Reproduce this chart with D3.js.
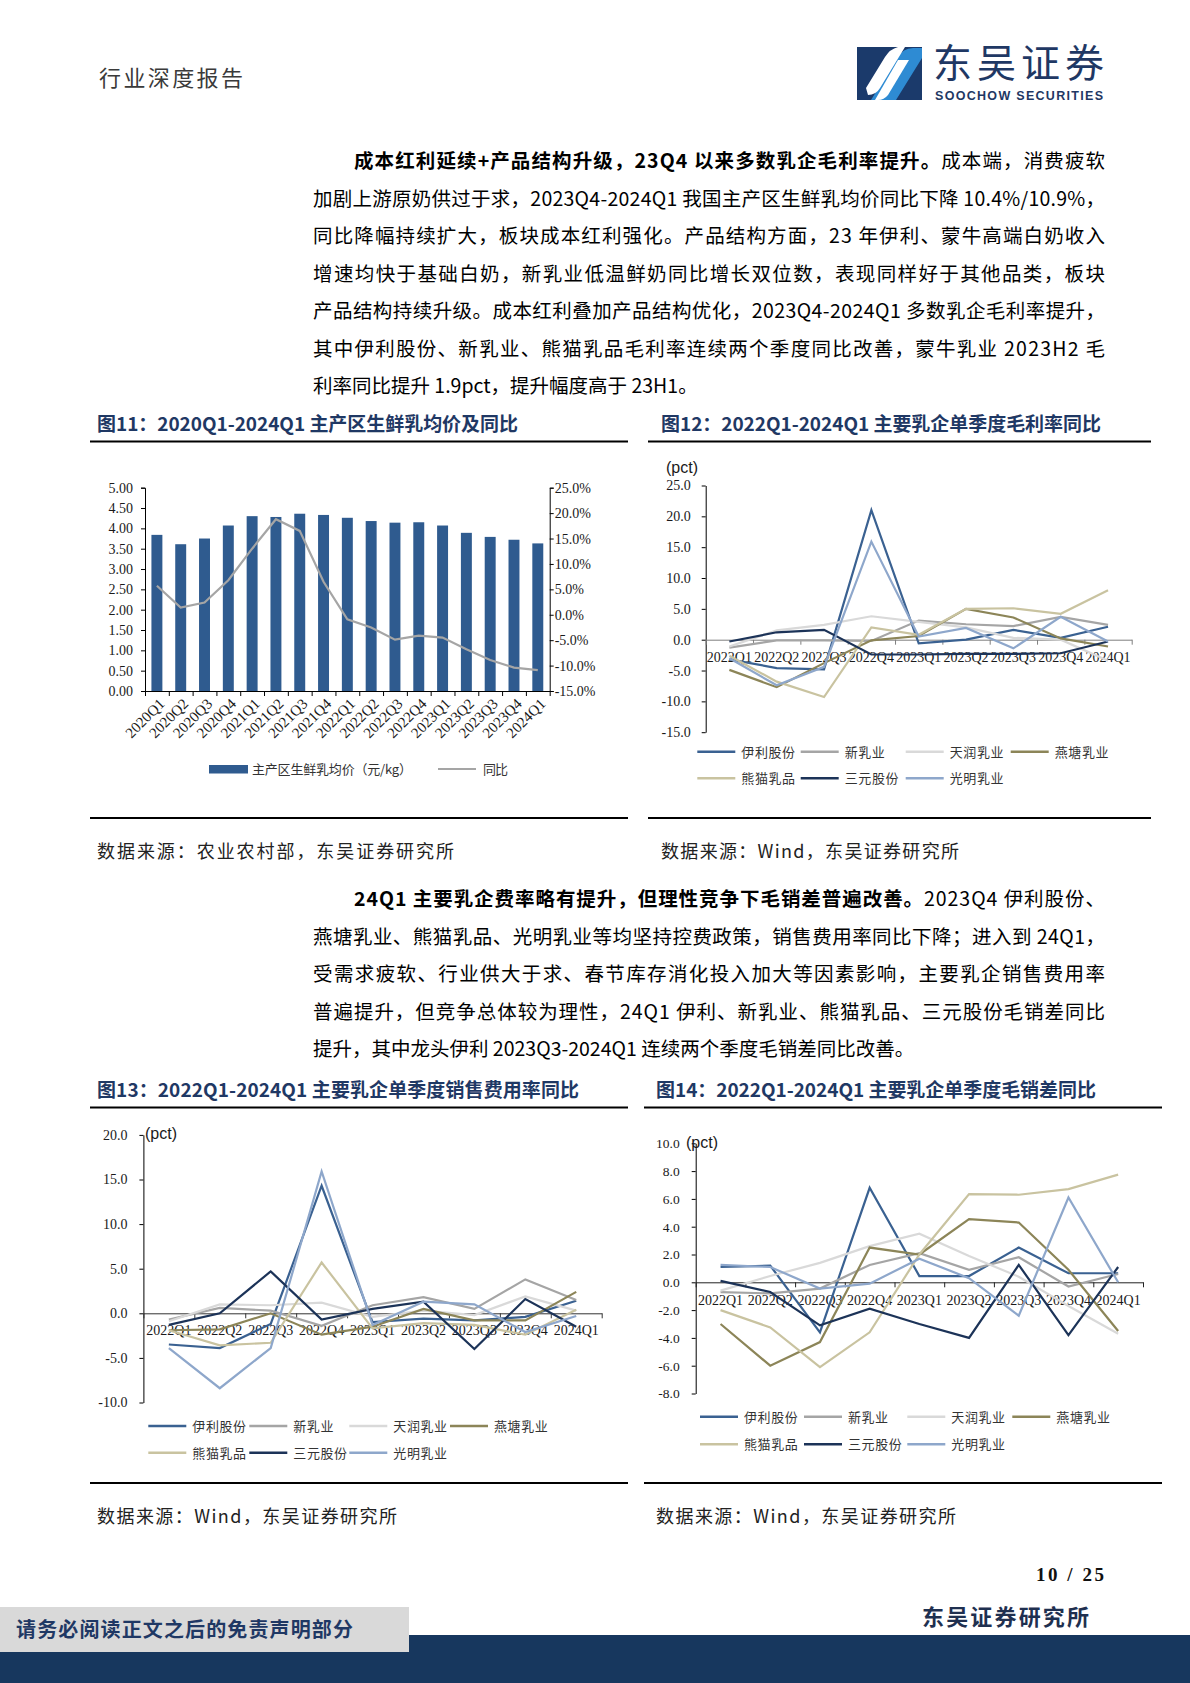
<!DOCTYPE html>
<html><head><meta charset="utf-8">
<script src="https://cdn.jsdelivr.net/npm/d3@7"></script>
<style>body{margin:0;background:#fff}svg{display:block}</style>
</head><body>
<svg id="page" width="1190" height="1683"></svg>
<script>
// ---------------- DATA ----------------
const quarters20 = ["2020Q1","2020Q2","2020Q3","2020Q4","2021Q1","2021Q2","2021Q3","2021Q4","2022Q1","2022Q2","2022Q3","2022Q4","2023Q1","2023Q2","2023Q3","2023Q4","2024Q1"];
const milkPrice = [3.84,3.61,3.75,4.07,4.30,4.28,4.36,4.33,4.26,4.18,4.14,4.15,4.07,3.89,3.79,3.72,3.63];
const milkPriceYoY = [5.7,1.4,2.4,6.8,13.0,18.8,16.5,6.5,-0.9,-2.5,-4.9,-4.1,-4.5,-6.8,-8.9,-10.4,-10.9];
const priceLeftTicks = [0,0.5,1,1.5,2,2.5,3,3.5,4,4.5,5];
const priceRightTicks = [-15,-10,-5,0,5,10,15,20,25];

const quarters22 = ["2022Q1","2022Q2","2022Q3","2022Q4","2023Q1","2023Q2","2023Q3","2023Q4","2024Q1"];
const companies = ["伊利股份","新乳业","天润乳业","燕塘乳业","熊猫乳品","三元股份","光明乳业"];
const companyColors = ["#3A6191","#A5A5A5","#D9D9D9","#8C8558","#C9C3A0","#1C3358","#8EA7CB"];

// 图12 毛利率同比 (pct)
const grossMarginYoY = [
  [-3.2,-4.6,-4.8,21.0,-0.6,0.0,1.6,0.3,2.1],
  [-1.3,-0.1,-0.1,-0.2,3.1,2.5,2.2,3.7,2.4],
  [-1.1,1.5,2.4,3.8,2.9,2.0,0.3,0.0,-3.4],
  [-4.9,-7.7,-3.8,-0.1,0.6,5.0,3.6,0.2,-1.1],
  [-2.6,-6.8,-9.3,2.0,0.8,5.0,5.1,4.2,8.0],
  [-0.3,1.2,1.6,-2.4,-2.4,-2.3,-2.3,-2.2,-0.3],
  [-3.0,-7.4,-4.4,15.9,0.5,1.9,-1.4,3.7,-0.3]
];
const grossMarginTicks = [-15,-10,-5,0,5,10,15,20,25];

// 图13 销售费用率同比 (pct)
const sellingExpenseYoY = [
  [-3.5,-3.9,-1.2,14.3,-1.0,-0.6,-0.8,-0.4,1.4],
  [-0.7,0.6,0.3,-1.4,0.9,1.8,0.5,3.8,1.5],
  [-0.9,1.0,0.9,1.2,-0.4,0.3,-0.2,1.9,0.3],
  [-1.9,-1.8,0.0,-2.4,-1.5,0.5,-0.8,-0.8,2.4],
  [-1.9,-3.6,-3.3,5.7,-1.7,-1.1,-1.3,-2.4,0.4],
  [-1.3,0.0,4.7,-0.7,0.5,1.3,-4.0,1.6,-1.5],
  [-3.9,-8.4,-3.9,15.9,-1.3,1.3,1.0,-2.1,-0.3]
];
const sellingExpenseTicks = [-10,-5,0,5,10,15,20];

// 图14 毛销差同比 (pct)
const grossSpreadYoY = [
  [1.1,1.2,-3.6,6.8,0.45,0.45,2.5,0.65,0.65],
  [-0.7,-0.8,-0.45,1.25,2.1,0.9,1.8,-0.3,0.6],
  [-0.6,0.45,1.4,2.6,3.5,1.9,0.4,-1.7,-3.7],
  [-3.0,-6.0,-4.3,2.5,2.0,4.55,4.3,0.9,-3.5],
  [-2.0,-3.25,-6.1,-3.6,2.0,6.35,6.3,6.7,7.75],
  [0.1,-0.7,-3.1,-1.9,-3.0,-4.0,1.25,-3.8,1.1],
  [1.25,1.1,-0.45,-0.1,1.7,0.3,-2.4,6.1,0.0]
];
const grossSpreadTicks = [-8,-6,-4,-2,0,2,4,6,8,10];

const para1 = [
  [["成本红利延续+产品结构升级，23Q4 以来多数乳企毛利率提升。",1],["成本端，消费疲软",0]],
  [["加剧上游原奶供过于求，2023Q4-2024Q1 我国主产区生鲜乳均价同比下降 10.4%/10.9%，",0]],
  [["同比降幅持续扩大，板块成本红利强化。产品结构方面，23 年伊利、蒙牛高端白奶收入",0]],
  [["增速均快于基础白奶，新乳业低温鲜奶同比增长双位数，表现同样好于其他品类，板块",0]],
  [["产品结构持续升级。成本红利叠加产品结构优化，2023Q4-2024Q1 多数乳企毛利率提升，",0]],
  [["其中伊利股份、新乳业、熊猫乳品毛利率连续两个季度同比改善，蒙牛乳业 2023H2 毛",0]],
  [["利率同比提升 1.9pct，提升幅度高于 23H1。",0]]
];
const para2 = [
  [["24Q1 主要乳企费率略有提升，但理性竞争下毛销差普遍改善。",1],["2023Q4 伊利股份、",0]],
  [["燕塘乳业、熊猫乳品、光明乳业等均坚持控费政策，销售费用率同比下降；进入到 24Q1，",0]],
  [["受需求疲软、行业供大于求、春节库存消化投入加大等因素影响，主要乳企销售费用率",0]],
  [["普遍提升，但竞争总体较为理性，24Q1 伊利、新乳业、熊猫乳品、三元股份毛销差同比",0]],
  [["提升，其中龙头伊利 2023Q3-2024Q1 连续两个季度毛销差同比改善。",0]]
];

// ---------------- DRAW ----------------
const svg = d3.select("#page");
const CJK = '"Noto Sans CJK SC","Noto Sans",sans-serif';
const SERIF = '"Liberation Serif","DejaVu Serif",serif';
const SANS = '"Liberation Sans","DejaVu Sans",sans-serif';
const NAVY = "#1F3864";

function fit(t, width) {
  const node = t.node();
  const len = node.getComputedTextLength();
  const n = node.textContent.length;
  if (n > 1) t.attr("letter-spacing", ((width - len) / (n - 1)).toFixed(3));
}
function cjkText(x, cy, size, txt, opts = {}) {
  const t = svg.append("text").attr("x", x).attr("y", cy + size * 0.37)
    .style("font-family", opts.family || CJK).style("font-size", size + "px")
    .attr("font-weight", opts.bold ? 700 : 400).attr("fill", opts.fill || "#000")
    .text(txt);
  if (opts.width) fit(t, opts.width);
  return t;
}

// header
cjkText(99, 78, 22, "行业深度报告", {fill: "#3a3a3a", width: 144});
// logo
const logo = svg.append("g");
logo.append("rect").attr("x", 857).attr("y", 47).attr("width", 65).attr("height", 53).attr("fill", "#1B3A6B");
logo.append("path").attr("d", "M871,100 L897,58 Q903,48 913,48 L922,48 L922,58 L896,100 Z").attr("fill", "#2E8BD3");
logo.append("path").attr("d", "M866,88 L885,57 Q890,49 898,47 L905,47 L880,88 Q876,95 868,95 Z").attr("fill", "#fff");
logo.append("path").attr("d", "M898,60 L909,60 L888,95 Q884,100 878,100 L875,100 Z").attr("fill", "#fff");
cjkText(933, 63, 39, "东吴证券", {fill: NAVY, width: 171});
svg.append("text").attr("x", 935).attr("y", 100).style("font-family", SANS).style("font-size", "12.5px")
  .attr("font-weight", 700).attr("fill", NAVY).text("SOOCHOW SECURITIES").call(t => fit(t, 168));

// paragraphs
function paragraph(lines, y0) {
  lines.forEach((segs, i) => {
    const x = i === 0 ? 354 : 313;
    const t = svg.append("text").attr("x", x).attr("y", y0 + i * 37.5 + 19.5 * 0.37)
      .style("font-family", CJK).style("font-size", "19.5px").attr("fill", "#000");
    segs.forEach(s => t.append("tspan").attr("font-weight", s[1] ? 700 : 400).text(s[0]));
    if (i < lines.length - 1) fit(t, 1105 - x);
  });
}
paragraph(para1, 161);
paragraph(para2, 899);

// figure frames
function frame(title, tx, titleW, x0, x1, yTop, yBot, source, srcW) {
  cjkText(tx, yTop - 18, 19, title, {bold: true, fill: NAVY, width: titleW});
  svg.append("line").attr("x1", x0).attr("x2", x1).attr("y1", yTop).attr("y2", yTop).attr("stroke", "#000").attr("stroke-width", 2.2);
  svg.append("line").attr("x1", x0).attr("x2", x1).attr("y1", yBot).attr("y2", yBot).attr("stroke", "#000").attr("stroke-width", 2.2);
  cjkText(tx, yBot + 33, 18, source, {fill: "#222", width: srcW});
}
frame("图11：2020Q1-2024Q1 主产区生鲜乳均价及同比", 97, 421, 90, 628, 441.5, 818, "数据来源：农业农村部，东吴证券研究所", 357);
frame("图12：2022Q1-2024Q1 主要乳企单季度毛利率同比", 661, 440, 648, 1151, 441.5, 818, "数据来源：Wind，东吴证券研究所", 298);
frame("图13：2022Q1-2024Q1 主要乳企单季度销售费用率同比", 97, 482, 90, 628, 1107.5, 1483, "数据来源：Wind，东吴证券研究所", 300);
frame("图14：2022Q1-2024Q1 主要乳企单季度毛销差同比", 656, 440, 644, 1162, 1107.5, 1483, "数据来源：Wind，东吴证券研究所", 300);

function styleAxis(g, size, color) {
  g.selectAll("text").style("font-family", SERIF).style("font-size", size + "px").attr("fill", "#1a1a1a");
  g.selectAll("line").attr("stroke", color || "#000");
  g.select(".domain").attr("stroke", color || "#000");
}

// ---- Chart 11: bars + line ----
(function () {
  const x0 = 145, x1 = 549.7, yB = 691, yT = 487.7;
  const x = d3.scaleBand().domain(quarters20).range([x0, x1]).paddingInner(0.54).paddingOuter(0.27);
  const yL = d3.scaleLinear().domain([0, 5]).range([yB, yT]);
  const yR = d3.scaleLinear().domain([-15, 25]).range([yB, yT]);
  svg.append("g").selectAll("rect").data(milkPrice).join("rect")
    .attr("x", (d, i) => x(quarters20[i])).attr("width", x.bandwidth())
    .attr("y", d => yL(d)).attr("height", d => yL(0) - yL(d)).attr("fill", "#2F5B8F");
  const gl = svg.append("g").attr("transform", `translate(${x0},0)`)
    .call(d3.axisLeft(yL).tickValues(priceLeftTicks).tickSize(4).tickPadding(8).tickFormat(d => d.toFixed(2)));
  styleAxis(gl, 14);
  const gr = svg.append("g").attr("transform", `translate(${x1},0)`)
    .call(d3.axisRight(yR).tickValues(priceRightTicks).tickSize(4).tickPadding(1).tickFormat(d => d.toFixed(1) + "%"));
  styleAxis(gr, 14);
  const xb = d3.scalePoint().domain(d3.range(quarters20.length + 1)).range([x0, x1]);
  const gb = svg.append("g").attr("transform", `translate(0,${yB})`)
    .call(d3.axisBottom(xb).tickSize(5).tickSizeOuter(0).tickFormat(""));
  styleAxis(gb, 14);
  svg.append("g").selectAll("text").data(quarters20).join("text")
    .attr("transform", q => `translate(${x(q) + x.bandwidth() / 2 + 5},${yB + 10}) rotate(-45)`)
    .attr("text-anchor", "end").attr("dy", "0.35em")
    .style("font-family", SERIF).style("font-size", "15px").attr("fill", "#1a1a1a").text(q => q);
  const line = d3.line().x((d, i) => x(quarters20[i]) + x.bandwidth() / 2).y(d => yR(d));
  svg.append("path").datum(milkPriceYoY).attr("d", line).attr("fill", "none").attr("stroke", "#A5A5A5").attr("stroke-width", 2.2);
  // legend
  svg.append("rect").attr("x", 209).attr("y", 765).attr("width", 39).attr("height", 8.5).attr("fill", "#2F5B8F");
  cjkText(252, 769, 13, "主产区生鲜乳均价（元/kg）", {fill: "#333", width: 160});
  svg.append("line").attr("x1", 438).attr("x2", 476).attr("y1", 769).attr("y2", 769).attr("stroke", "#A5A5A5").attr("stroke-width", 2.2);
  cjkText(483, 769, 13, "同比", {fill: "#333", width: 25});
})();

// ---- multi-line charts ----
function lineChart(o) {
  const x = d3.scaleBand().domain(quarters22).range([o.x0, o.x1]);
  const y = d3.scaleLinear().domain(o.dom).range([o.yB, o.yT]);
  const gy = svg.append("g").attr("transform", `translate(${o.x0},0)`)
    .call(d3.axisLeft(y).tickValues(o.ticks).tickSize(4).tickPadding(o.pad).tickSizeOuter(0).tickFormat(d => d.toFixed(1)));
  styleAxis(gy, o.yFont);
  const xb = d3.scalePoint().domain(d3.range(quarters22.length + 1)).range([o.x0, o.x1]);
  const gx = svg.append("g").attr("transform", `translate(0,${y(0)})`)
    .call(d3.axisBottom(xb).tickSize(5).tickSizeOuter(0).tickFormat(""));
  styleAxis(gx, 14, o.zeroColor);
  const gl = svg.append("g").attr("transform", `translate(0,${y(0)})`)
    .call(d3.axisBottom(x).tickSize(0).tickPadding(o.labPad));
  gl.select(".domain").remove();
  gl.selectAll("text").style("font-family", SERIF).style("font-size", o.xFont + "px").attr("fill", "#1a1a1a");
  const line = d3.line().x((d, i) => x(quarters22[i]) + x.bandwidth() / 2).y(d => y(d));
  svg.append("g").selectAll("path").data(o.data).join("path")
    .attr("d", line).attr("fill", "none").attr("stroke", (d, i) => companyColors[i])
    .attr("stroke-width", 2.2).attr("stroke-linejoin", "miter");
  svg.append("text").attr("x", o.pctX).attr("y", o.pctY).attr("dy", "0.35em")
    .style("font-family", SANS).style("font-size", "16px").attr("fill", "#1a1a1a").text("(pct)");
  companies.forEach((c, i) => {
    const lx = o.legX[i % 4], ly = o.legY[Math.floor(i / 4)];
    svg.append("line").attr("x1", lx).attr("x2", lx + 38).attr("y1", ly).attr("y2", ly)
      .attr("stroke", companyColors[i]).attr("stroke-width", 2.4);
    cjkText(lx + 44, ly, 13, c, {fill: "#333", width: c.length * 13.7 - 1});
  });
}

lineChart({x0: 705.7, x1: 1131.7, yB: 732.2, yT: 485.5, dom: [-15, 25], ticks: grossMarginTicks, data: grossMarginYoY,
  pad: 11, yFont: 14, xFont: 14, labPad: 12, zeroColor: "#7F7F7F", pctX: 666, pctY: 467,
  legX: [697.3, 800.7, 905.7, 1010.7], legY: [751.7, 778.3]});
lineChart({x0: 143.4, x1: 601.7, yB: 1402.5, yT: 1134.9, dom: [-10, 20], ticks: sellingExpenseTicks, data: sellingExpenseYoY,
  pad: 12, yFont: 14, xFont: 14, labPad: 12, zeroColor: "#333", pctX: 145, pctY: 1133,
  legX: [148.3, 249.3, 349.3, 450], legY: [1426, 1452.7]});
lineChart({x0: 695.7, x1: 1143, yB: 1393.5, yT: 1143.3, dom: [-8, 10], ticks: grossSpreadTicks, data: grossSpreadYoY,
  pad: 12, yFont: 13.5, xFont: 14, labPad: 13, zeroColor: "#222", pctX: 686, pctY: 1142,
  legX: [700, 804, 907.3, 1012.3], legY: [1416.7, 1444.3]});

// footer
svg.append("text").attr("x", 1036).attr("y", 1581).style("font-family", SERIF).style("font-size", "19px")
  .attr("font-weight", 700).attr("fill", "#111").text("10 / 25").call(t => fit(t, 68));
cjkText(922, 1617, 22, "东吴证券研究所", {bold: true, fill: "#1F3050", width: 167});
svg.append("rect").attr("x", 0).attr("y", 1635).attr("width", 1190).attr("height", 48).attr("fill", "#17375E");
svg.append("rect").attr("x", 0).attr("y", 1607).attr("width", 409).attr("height", 45).attr("fill", "#D9D9D9");
cjkText(16, 1630, 20, "请务必阅读正文之后的免责声明部分", {bold: true, fill: NAVY, width: 337});
</script>
</body></html>
